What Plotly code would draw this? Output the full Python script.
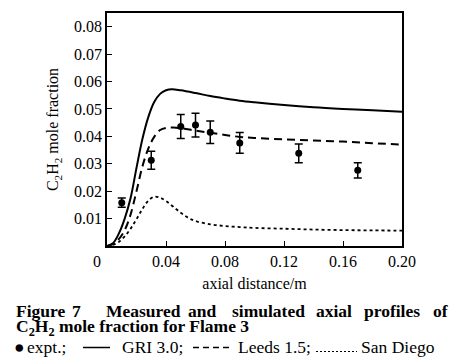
import plotly.graph_objects as go

# ---- data ----
expt_x = [0.010, 0.030, 0.050, 0.060, 0.070, 0.090, 0.130, 0.170]
expt_y = [0.0158, 0.0313, 0.0436, 0.0441, 0.0415, 0.0376, 0.0338, 0.0276]
expt_err = [0.0017, 0.0033, 0.0044, 0.0043, 0.0041, 0.0038, 0.0034, 0.0028]

gri_x = [0, 0.004, 0.008, 0.012, 0.016, 0.020, 0.024, 0.028, 0.032, 0.036, 0.040, 0.044,
         0.050, 0.060, 0.070, 0.080, 0.090, 0.100, 0.120, 0.140, 0.160, 0.180, 0.200]
gri_y = [0, 0.0010, 0.0045, 0.0100, 0.0175, 0.0285, 0.0390, 0.0470, 0.0525, 0.0555, 0.0568, 0.0572,
         0.0568, 0.0558, 0.0547, 0.0538, 0.0530, 0.0524, 0.0514, 0.0506, 0.0500, 0.0495, 0.0490]

leeds_x = [0, 0.004, 0.008, 0.012, 0.016, 0.020, 0.024, 0.028, 0.032, 0.036, 0.040, 0.045,
           0.050, 0.060, 0.070, 0.080, 0.090, 0.100, 0.120, 0.140, 0.160, 0.180, 0.200]
leeds_y = [0, 0.0007, 0.0025, 0.0058, 0.0115, 0.0200, 0.0290, 0.0355, 0.0398, 0.0423, 0.0431, 0.0432,
           0.0430, 0.0421, 0.0413, 0.0405, 0.0398, 0.0394, 0.0389, 0.0385, 0.0381, 0.0375, 0.0370]

sd_x = [0, 0.004, 0.008, 0.012, 0.016, 0.020, 0.024, 0.028, 0.032, 0.036, 0.040, 0.045,
        0.050, 0.055, 0.060, 0.070, 0.080, 0.090, 0.100, 0.120, 0.140, 0.160, 0.180, 0.200]
sd_y = [0, 0.0004, 0.0015, 0.0035, 0.0063, 0.0098, 0.0135, 0.0165, 0.0180, 0.0176, 0.0164, 0.0143,
        0.0121, 0.0103, 0.0091, 0.0079, 0.0073, 0.0069, 0.0066, 0.0063, 0.0060, 0.0058, 0.0057, 0.0056]

x_ticks = [0.04, 0.08, 0.12, 0.16, 0.20]
x_ticktext = ["0.04", "0.08", "0.12", "0.16", "0.20"]
y_ticks = [0.01, 0.02, 0.03, 0.04, 0.05, 0.06, 0.07, 0.08]
y_ticktext = ["0.01", "0.02", "0.03", "0.04", "0.05", "0.06", "0.07", "0.08"]

FONT = "Liberation Serif"
CAP = 17.5
W, H = 459, 362
L, R, T, B = 107, 57, 13, 116
PW, PH = W - L - R, H - T - B


def px(xp):
    return (xp - L) / PW


def py(yp):
    return (H - B - yp) / PH


fig = go.Figure()
fig.add_trace(go.Scatter(x=gri_x, y=gri_y, mode="lines", line=dict(color="black", width=2, shape="spline"),
                         showlegend=False))
fig.add_trace(go.Scatter(x=leeds_x, y=leeds_y, mode="lines",
                         line=dict(color="black", width=2, dash="8px,5px", shape="spline"), showlegend=False))
fig.add_trace(go.Scatter(x=sd_x, y=sd_y, mode="lines",
                         line=dict(color="black", width=1.8, dash="3px,3px", shape="spline"), showlegend=False))
fig.add_trace(go.Scatter(x=expt_x, y=expt_y, mode="markers",
                         marker=dict(color="black", size=7),
                         error_y=dict(type="data", array=expt_err, color="black", thickness=1.5, width=4),
                         showlegend=False))

fig.update_xaxes(range=[0, 0.2], tickvals=x_ticks, ticktext=x_ticktext, ticks="inside", ticklen=5,
                 tickwidth=1.2, tickcolor="black", showline=True, linecolor="black", linewidth=1.5,
                 mirror=True, showgrid=False, zeroline=False,
                 tickfont=dict(family=FONT, size=16, color="black"),
                 title=dict(text="axial distance/m", font=dict(family=FONT, size=16, color="black"), standoff=9))
fig.update_yaxes(range=[0, 0.085], tickvals=y_ticks, ticktext=y_ticktext, ticks="inside", ticklen=5,
                 tickwidth=1.2, tickcolor="black", showline=True, linecolor="black", linewidth=1.5,
                 mirror=True, showgrid=False, zeroline=False,
                 tickfont=dict(family=FONT, size=16, color="black"),
                 title=dict(text="C<sub>2</sub>H<sub>2</sub> mole fraction",
                            font=dict(family=FONT, size=16, color="black"), standoff=11))

ann = []
# origin label
ann.append(dict(x=px(97), y=py(261), xref="paper", yref="paper", text="0", showarrow=False,
                xanchor="center", yanchor="middle", font=dict(family=FONT, size=16, color="black")))

# caption line 1 (justified words)
line1 = [("Figure", 16), ("7", 72), ("Measured", 106), ("and", 188), ("simulated", 232),
         ("axial", 316), ("profiles", 364), ("of", 433)]
for word, xp in line1:
    ann.append(dict(x=px(xp), y=py(300), xref="paper", yref="paper", text="<b>%s</b>" % word,
                    showarrow=False, xanchor="left", yanchor="top", borderpad=0,
                    font=dict(family=FONT, size=CAP, color="black"), xshift=-1))
ann.append(dict(x=px(16), y=py(314.5), xref="paper", yref="paper",
                text="<b>C<sub>2</sub>H<sub>2</sub> mole fraction for Flame 3</b>",
                showarrow=False, xanchor="left", yanchor="top", borderpad=0,
                font=dict(family=FONT, size=CAP, color="black"), xshift=-1))
line3 = [("●", 14), ("expt.;", 27), ("GRI 3.0;", 122), ("Leeds 1.5;", 238), ("San Diego", 361)]
for word, xp in line3:
    ann.append(dict(x=px(xp), y=py(336), xref="paper", yref="paper", text=word,
                    showarrow=False, xanchor="left", yanchor="top", borderpad=0,
                    font=dict(family=FONT, size=CAP, color="black"), xshift=-1))

shapes = [
    dict(type="line", xref="paper", yref="paper", x0=px(83), x1=px(110), y0=py(347.5), y1=py(347.5),
         line=dict(color="black", width=1.5)),
    dict(type="line", xref="paper", yref="paper", x0=px(193), x1=px(233), y0=py(347.5), y1=py(347.5),
         line=dict(color="black", width=1.5, dash="6px,4px")),
    dict(type="line", xref="paper", yref="paper", x0=px(316), x1=px(357), y0=py(351.5), y1=py(351.5),
         line=dict(color="black", width=1.2, dash="2px,2px")),
]

fig.update_layout(width=W, height=H, margin=dict(l=L, r=R, t=T, b=B), plot_bgcolor="white",
                  paper_bgcolor="white", annotations=ann, shapes=shapes,
                  font=dict(family=FONT, color="black"))

fig.write_html("out.html", config={"displayModeBar": False},
               post_script="document.body.style.margin='0px';")
